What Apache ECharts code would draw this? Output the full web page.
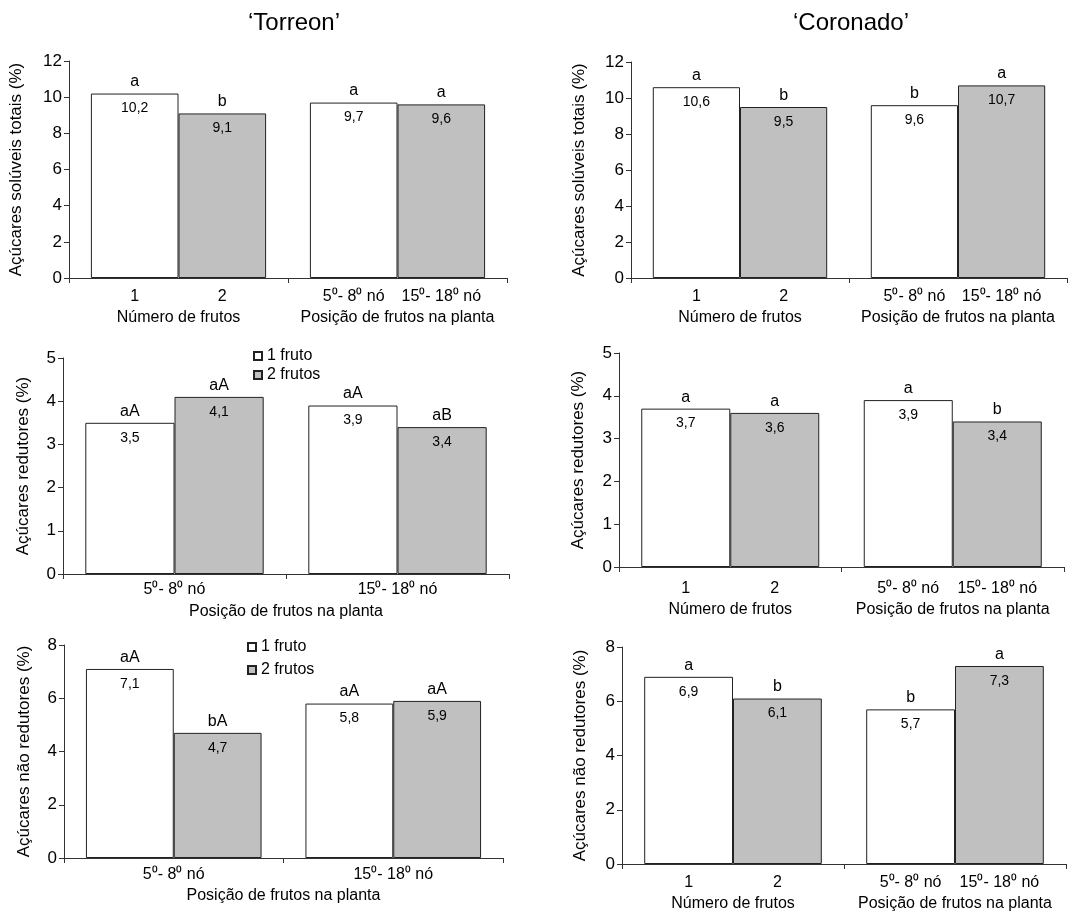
<!DOCTYPE html>
<html><head><meta charset="utf-8">
<script src="https://cdn.jsdelivr.net/npm/echarts@6/dist/echarts.min.js"></script>
<style>html,body{margin:0;padding:0;background:#fff}#c{width:1089px;height:914px}</style>
</head><body><div id="c"></div>
<script>
// ---- texts ----
const titles = ['‘Torreon’', '‘Coronado’'];
const yNames = ['Açúcares solúveis totais (%)', 'Açúcares redutores (%)', 'Açúcares não redutores (%)'];
const groupNames = ['Número de frutos', 'Posição de frutos na planta'];
const subLabels = [['1', '2'], ['5⁰- 8⁰ nó', '15⁰- 18⁰ nó']];
const positionCats = ['5⁰- 8⁰ nó', '15⁰- 18⁰ nó'];
const legendNames = ['1 fruto', '2 frutos'];

// ---- y axis scales ----
const yMaxes = [12, 5, 8];
const yIntervals = [2, 1, 2];

// ---- data: Torreon ----
const torAstWhite = [10.2, 9.7];
const torAstGray = [9.1, 9.6];
const torAstWhiteLet = ['a', 'a'];
const torAstGrayLet = ['b', 'a'];

const torArWhite = [3.5, 3.9];
const torArGray = [4.1, 3.4];
const torArWhiteLet = ['aA', 'aA'];
const torArGrayLet = ['aA', 'aB'];

const torAnrWhite = [7.1, 5.8];
const torAnrGray = [4.7, 5.9];
const torAnrWhiteLet = ['aA', 'aA'];
const torAnrGrayLet = ['bA', 'aA'];

// ---- data: Coronado ----
const corAstWhite = [10.6, 9.6];
const corAstGray = [9.5, 10.7];
const corAstWhiteLet = ['a', 'b'];
const corAstGrayLet = ['b', 'a'];

const corArWhite = [3.7, 3.9];
const corArGray = [3.6, 3.4];
const corArWhiteLet = ['a', 'a'];
const corArGrayLet = ['a', 'b'];

const corAnrWhite = [6.9, 5.7];
const corAnrGray = [6.1, 7.3];
const corAnrWhiteLet = ['a', 'b'];
const corAnrGrayLet = ['b', 'a'];

// ---- layout ----
const W = 1089, H = 914;
const FONT = "'Liberation Sans', Arial, sans-serif";
const panels = [
  {grid: {left: 69, right: 582, top: 61, bottom: 636}, y: 0, kind: 'group', nameGap: 44, lblMargin: 9,
   white: torAstWhite, gray: torAstGray, wl: torAstWhiteLet, gl: torAstGrayLet},
  {grid: {left: 631, right: 22, top: 62, bottom: 636}, y: 0, kind: 'group', nameGap: 43, lblMargin: 9,
   white: corAstWhite, gray: corAstGray, wl: corAstWhiteLet, gl: corAstGrayLet},
  {grid: {left: 63, right: 580, top: 358, bottom: 340}, y: 1, kind: 'pos', nameGap: 31, lblMargin: 8,
   white: torArWhite, gray: torArGray, wl: torArWhiteLet, gl: torArGrayLet},
  {grid: {left: 619, right: 25, top: 353, bottom: 347}, y: 1, kind: 'group', nameGap: 32, lblMargin: 12,
   white: corArWhite, gray: corArGray, wl: corArWhiteLet, gl: corArGrayLet},
  {grid: {left: 64, right: 586, top: 645, bottom: 56}, y: 2, kind: 'pos', nameGap: 31, lblMargin: 9,
   white: torAnrWhite, gray: torAnrGray, wl: torAnrWhiteLet, gl: torAnrGrayLet},
  {grid: {left: 622, right: 23, top: 647, bottom: 50}, y: 2, kind: 'group', nameGap: 33, lblMargin: 9,
   white: corAnrWhite, gray: corAnrGray, wl: corAnrWhiteLet, gl: corAnrGrayLet}
];

const fmt = v => v.toFixed(1).replace('.', ',');
const AXIS = '#333';

const grids = [], xAxes = [], yAxes = [], series = [];
panels.forEach((p, i) => {
  grids.push(Object.assign({containLabel: false}, p.grid));
  const gw = W - p.grid.left - p.grid.right;
  const barW = gw / 2 * 0.4;
  const xa = {
    type: 'category', gridIndex: i,
    axisLine: {lineStyle: {color: AXIS, width: 1}},
    axisTick: {show: true, length: 5, lineStyle: {color: AXIS}},
    axisLabel: {interval: 0, color: '#000', fontFamily: FONT, fontSize: 16, margin: p.lblMargin}
  };
  if (p.kind === 'group') {
    xa.data = groupNames;
    xa.axisLabel.formatter = (val, idx) => `{s|${subLabels[idx][0]}}{s|${subLabels[idx][1]}}\n{n|${val}}`;
    xa.axisLabel.rich = {
      s: {width: barW, align: 'center', fontSize: 16, lineHeight: 20, fontFamily: FONT, color: '#000'},
      n: {fontSize: 16, lineHeight: 21, fontFamily: FONT, color: '#000'}
    };
  } else {
    xa.data = positionCats;
    xa.name = groupNames[1];
    xa.nameLocation = 'middle';
    xa.nameGap = 30;
    xa.nameTextStyle = {color: '#000', fontFamily: FONT, fontSize: 16};
  }
  xAxes.push(xa);
  yAxes.push({
    type: 'value', gridIndex: i, min: 0, max: yMaxes[p.y], interval: yIntervals[p.y],
    name: yNames[p.y], nameLocation: 'middle', nameGap: p.nameGap,
    nameTextStyle: {color: '#000', fontFamily: FONT, fontSize: 17},
    splitLine: {show: false},
    axisLine: {show: true, lineStyle: {color: AXIS, width: 1}},
    axisTick: {show: true, length: 5, lineStyle: {color: AXIS}},
    axisLabel: {color: '#000', fontFamily: FONT, fontSize: 17, margin: 7}
  });
  const mk = (name, data, letters, color) => ({
    type: 'bar', name: name, xAxisIndex: i, yAxisIndex: i, data: data,
    barGap: '0%', barCategoryGap: '20%',
    itemStyle: {color: color, borderColor: '#222', borderWidth: 1},
    emphasis: {disabled: true},
    label: {
      show: true, position: 'top', distance: 0, offset: [0, 23],
      formatter: q => `{l|${letters[q.dataIndex]}}\n{v|${fmt(q.value)}}`,
      rich: {
        l: {fontSize: 16, lineHeight: 37, fontFamily: FONT, color: '#000'},
        v: {fontSize: 14, lineHeight: 16, fontFamily: FONT, color: '#000'}
      }
    }
  });
  series.push(mk(legendNames[0], p.white, p.wl, '#ffffff'));
  series.push(mk(legendNames[1], p.gray, p.gl, '#c0c0c0'));
});

const legendBase = {
  orient: 'vertical', icon: 'rect', itemWidth: 8, itemHeight: 8,
  selectedMode: false, data: legendNames,
  textStyle: {color: '#000', fontFamily: FONT, fontSize: 16}
};

const chart = echarts.init(document.getElementById('c'), null, {renderer: 'canvas'});
chart.setOption({
  animation: false,
  backgroundColor: '#fff',
  textStyle: {fontFamily: FONT},
  title: [
    {text: titles[0], left: 289, top: 6, textAlign: 'center', textStyle: {fontFamily: FONT, fontSize: 24, fontWeight: 'normal', color: '#000'}},
    {text: titles[1], left: 846, top: 6, textAlign: 'center', textStyle: {fontFamily: FONT, fontSize: 24, fontWeight: 'normal', color: '#000'}}
  ],
  legend: [
    Object.assign({left: 248, top: 343, itemGap: 3}, legendBase),
    Object.assign({left: 242, top: 634, itemGap: 7}, legendBase)
  ],
  grid: grids, xAxis: xAxes, yAxis: yAxes, series: series
});
</script></body></html>
